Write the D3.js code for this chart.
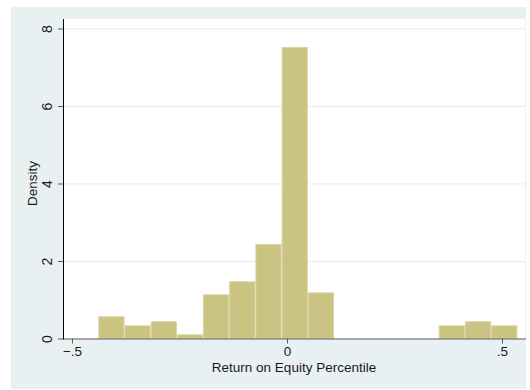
<!DOCTYPE html>
<html>
<head>
<meta charset="utf-8">
<script src="https://cdn.jsdelivr.net/npm/d3@7"></script>
<style>
  html, body { margin: 0; padding: 0; background: #ffffff; }
  svg { display: block; }
  text { font-family: "Liberation Sans", Arial, Helvetica, sans-serif; fill: #1a1a1a; }
</style>
</head>
<body>
<script>
// Histogram of return-on-equity percentile (density scale)
const binStart = -0.4388;
const binWidth = 0.0609;
const densities = [0.573, 0.34, 0.444, 0.108, 1.14, 1.476, 2.44, 7.52, 1.19, 0, 0, 0, 0, 0.34, 0.444, 0.34];
const xTicks = [-0.5, 0, 0.5];
const xTickLabels = ["\u2212.5", "0", ".5"];
const yTicks = [0, 2, 4, 6, 8];
const xTitle = "Return on Equity Percentile";
const yTitle = "Density";

const W = 530, H = 390;
const svg = d3.select("body").append("svg").attr("width", W).attr("height", H);

// graph region (light bluish background) and plot region (white)
const outer = { x0: 11, y0: 7, x1: 526, y1: 389 };
const plot = { x0: 63, y0: 19, x1: 525, y1: 338.5 };

svg.append("rect")
  .attr("x", outer.x0).attr("y", outer.y0)
  .attr("width", outer.x1 - outer.x0).attr("height", outer.y1 - outer.y0)
  .attr("fill", "#e9f0f2");

svg.append("rect")
  .attr("x", plot.x0).attr("y", plot.y0)
  .attr("width", plot.x1 - plot.x0).attr("height", plot.y1 - plot.y0)
  .attr("fill", "#ffffff");

const x = d3.scaleLinear().domain([-0.5209, 0.5535]).range([plot.x0, plot.x1]);
const y = d3.scaleLinear().domain([0, 8.245]).range([plot.y1, plot.y0]);

// horizontal grid lines
svg.append("g").selectAll("line")
  .data(yTicks.filter(d => d > 0))
  .join("line")
  .attr("x1", plot.x0).attr("x2", plot.x1)
  .attr("y1", d => y(d) + 0.5).attr("y2", d => y(d) + 0.5)
  .attr("stroke", "#e3ecef").attr("stroke-width", 1);

// bars
const bins = densities.map((d, i) => ({ lo: binStart + i * binWidth, hi: binStart + (i + 1) * binWidth, d }));
svg.append("g").selectAll("rect")
  .data(bins.filter(b => b.d > 0))
  .join("rect")
  .attr("x", b => x(b.lo) + 0.5)
  .attr("y", b => y(b.d) + 0.5)
  .attr("width", b => x(b.hi) - x(b.lo) - 1)
  .attr("height", b => y(0) - y(b.d) - 0.5)
  .attr("fill", "#cbc382")
  .attr("stroke", "#d8d3a0")
  .attr("stroke-width", 1);

// x axis
const xAxis = d3.axisBottom(x)
  .tickValues(xTicks)
  .tickFormat((d, i) => xTickLabels[i])
  .tickSizeInner(5).tickSizeOuter(0).tickPadding(3);
const gx = svg.append("g").attr("transform", `translate(0,${plot.y1})`).call(xAxis);
gx.select(".domain").attr("stroke", "#5a5a5a").attr("d", `M${plot.x0},0.5H${plot.x1 + 1}`);
gx.selectAll(".tick line").attr("stroke", "#5a5a5a");
gx.selectAll(".tick text").attr("font-size", 13.5).style("font-family", "Liberation Sans, Arial, sans-serif").attr("fill", "#1a1a1a");

// y axis
const yAxis = d3.axisLeft(y)
  .tickValues(yTicks)
  .tickFormat(d3.format("d"))
  .tickSizeInner(5).tickSizeOuter(0).tickPadding(6);
const gy = svg.append("g").attr("transform", `translate(${plot.x0},0)`).call(yAxis);
gy.select(".domain").attr("stroke", "#000000").attr("d", `M0.5,${plot.y0}V${plot.y1 + 1}`);
gy.selectAll(".tick line").attr("stroke", "#5a5a5a");
gy.selectAll(".tick text")
  .attr("font-size", 14)
  .style("font-family", "Liberation Sans, Arial, sans-serif")
  .attr("fill", "#1a1a1a")
  .attr("text-anchor", "middle")
  .attr("dy", null)
  .attr("x", null)
  .attr("transform", "translate(-16,0) rotate(-90)")
  .attr("dominant-baseline", "central");

// axis titles
svg.append("text")
  .attr("x", (plot.x0 + plot.x1) / 2).attr("y", 372)
  .attr("text-anchor", "middle")
  .attr("font-size", 13.5)
  .text(xTitle);

svg.append("text")
  .attr("transform", `translate(37,${(y(0) + y(8)) / 2}) rotate(-90)`)
  .attr("text-anchor", "middle")
  .attr("font-size", 13.5)
  .text(yTitle);
</script>
</body>
</html>
